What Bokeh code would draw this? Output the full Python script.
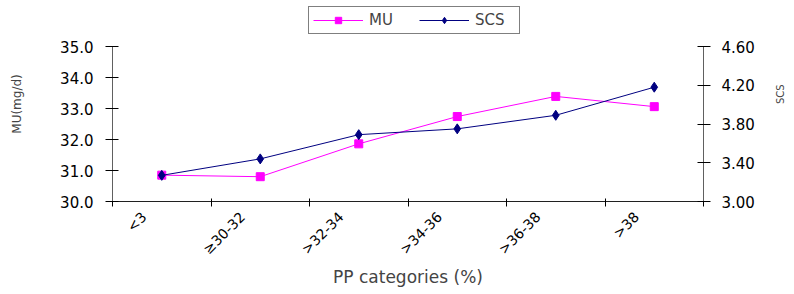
import math
from bokeh.plotting import figure
from bokeh.models import (Range1d, LinearAxis, FixedTicker, NumeralTickFormatter,
                          Legend, LegendItem)
from bokeh.embed import file_html
from bokeh.resources import INLINE

categories = ["<3", "\u226530-32", ">32-34", ">34-36", ">36-38", ">38"]
mu_values = [30.85, 30.80, 31.86, 32.74, 33.39, 33.06]
scs_values = [3.27, 3.44, 3.69, 3.75, 3.89, 4.18]
mu_ticks = [30.0, 31.0, 32.0, 33.0, 34.0, 35.0]
scs_ticks = [3.00, 3.40, 3.80, 4.20, 4.60]

FONT = "DejaVu Sans"
n = len(categories)
xs = [i + 0.5 for i in range(n)]
label_pos = [i + 0.32 for i in range(n)]
bounds = list(range(n + 1))

W, H = 794, 294
# frame spans from just above the legend down to the x axis; the value
# axes are drawn only over their value span (bounds)
BL, BR, BT, BB = 112, 90, 6, 93
axis_px = 155.0            # drawn height of both value axes
extra_px = 40.0            # space above the axes (legend strip)
mu_lo, mu_hi = mu_ticks[0], mu_ticks[-1]
scs_lo, scs_hi = scs_ticks[0], scs_ticks[-1]
mu_top = mu_hi + (mu_hi - mu_lo) * extra_px / axis_px
scs_top = scs_hi + (scs_hi - scs_lo) * extra_px / axis_px

p = figure(width=W, height=H, output_backend="svg", toolbar_location=None,
           x_range=Range1d(0, n), y_range=Range1d(mu_lo, mu_top),
           min_border_left=BL, min_border_right=BR,
           min_border_top=BT, min_border_bottom=BB)
p.extra_y_ranges = {"scs": Range1d(scs_lo, scs_top)}
p.outline_line_color = None
p.xgrid.visible = False
p.ygrid.visible = False
p.background_fill_color = "white"
p.border_fill_color = "white"

# x axis
xa = p.xaxis[0]
xa.ticker = FixedTicker(ticks=label_pos, minor_ticks=bounds)
xa.major_label_overrides = {lp: c for lp, c in zip(label_pos, categories)}
xa.major_label_orientation = math.pi / 4
xa.major_tick_in = 0
xa.major_tick_out = 0
xa.minor_tick_in = 3
xa.minor_tick_out = 5
xa.minor_tick_line_color = "black"
xa.axis_line_color = "#202020"
xa.major_label_text_font = FONT
xa.major_label_text_font_size = "14px"
xa.major_label_text_color = "black"
xa.major_label_standoff = 8
xa.axis_label = "PP categories (%)"
xa.axis_label_text_font = FONT
xa.axis_label_text_font_size = "17px"
xa.axis_label_text_font_style = "normal"
xa.axis_label_standoff = 1

# left axis
ya = p.yaxis[0]
ya.bounds = (mu_lo, mu_hi)
ya.ticker = FixedTicker(ticks=mu_ticks, minor_ticks=[])
ya.formatter = NumeralTickFormatter(format="0.0")
ya.major_tick_in = 6
ya.major_tick_out = 7
ya.major_tick_line_color = "black"
ya.axis_line_color = "#606060"
ya.major_label_text_font = FONT
ya.major_label_text_font_size = "15px"
ya.major_label_text_color = "black"
ya.major_label_standoff = 12
ya.axis_label = "MU(mg/d)"
ya.axis_label_text_font = FONT
ya.axis_label_text_font_size = "12px"
ya.axis_label_text_font_style = "normal"
ya.axis_label_standoff = 33

# right axis
ra = LinearAxis(y_range_name="scs", bounds=(scs_lo, scs_hi),
                ticker=FixedTicker(ticks=scs_ticks, minor_ticks=[]),
                formatter=NumeralTickFormatter(format="0.00"))
ra.major_tick_in = 6
ra.major_tick_out = 7
ra.major_tick_line_color = "black"
ra.axis_line_color = "#606060"
ra.major_label_text_font = FONT
ra.major_label_text_font_size = "15px"
ra.major_label_text_color = "black"
ra.major_label_standoff = 11
ra.axis_label = "SCS"
ra.axis_label_text_font = FONT
ra.axis_label_text_font_size = "10px"
ra.axis_label_text_font_style = "normal"
ra.axis_label_standoff = 23
ra.axis_label_orientation = math.pi / 2
ra.axis_label_text_align = "left"
p.add_layout(ra, "right")

mu_line = p.line(xs, mu_values, line_color="#FF00FF", line_width=1)
mu_pts = p.scatter(xs, mu_values, marker="square", size=8,
                   fill_color="#FF00FF", line_color="#FF00FF")
scs_line = p.line(xs, scs_values, line_color="#000080", line_width=1,
                  y_range_name="scs")
scs_pts = p.scatter(xs, scs_values, marker="diamond", size=10,
                    fill_color="#000080", line_color="#000080",
                    y_range_name="scs")

legend = Legend(items=[LegendItem(label="MU", renderers=[mu_line, mu_pts]),
                       LegendItem(label="SCS", renderers=[scs_line, scs_pts])],
                orientation="horizontal", location=(196, 167),
                glyph_width=50, glyph_height=16, label_height=16,
                label_width=40, label_standoff=6, spacing=10, padding=4,
                margin=0, border_line_color="black", border_line_width=1,
                label_text_font=FONT, label_text_font_size="15px",
                background_fill_alpha=1.0)
p.add_layout(legend, "center")

open("out.html", "w").write(file_html(p, INLINE))
